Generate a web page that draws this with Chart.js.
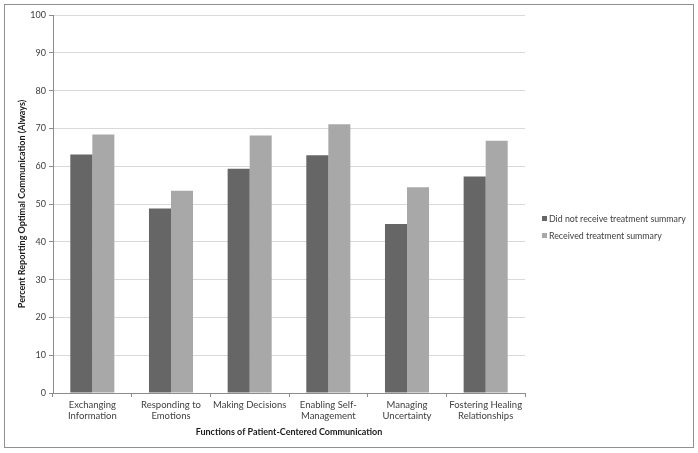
<!DOCTYPE html>
<html>
<head>
<meta charset="utf-8">
<script src="https://cdn.jsdelivr.net/npm/chart.js@4.4.1/dist/chart.umd.min.js"></script>
<style>
  html, body { margin: 0; padding: 0; background: #fff; }
  #wrap { position: relative; width: 698px; height: 453px; }
  #frame { position: absolute; left: 4px; top: 4px; width: 688px; height: 442px; border: 1px solid #8f8f8f; pointer-events: none; }
  canvas { position: absolute; left: 0; top: 0; }
</style>
</head>
<body>
<div id="wrap">
  <canvas id="chart" width="698" height="453"></canvas>
  <div id="frame"></div>
</div>
<script>
// categories and series
const categories = [
    ['Exchanging', 'Information'],
    ['Responding to', 'Emotions'],
    'Making Decisions',
    ['Enabling Self-', 'Management'],
    ['Managing', 'Uncertainty'],
    ['Fostering Healing', 'Relationships']
];
const seriesNames = ['Did not receive treatment summary', 'Received treatment summary'];
const noSummary = [63.1, 48.8, 59.3, 62.9, 44.7, 57.3];
const withSummary = [68.4, 53.5, 68.1, 71.1, 54.4, 66.7];
const yTicks = [0, 10, 20, 30, 40, 50, 60, 70, 80, 90, 100];

const FONT = 'Lato, "Liberation Sans", sans-serif';

// legend drawn by hand so the plot width stays put
const sideLegend = {
    id: 'sideLegend',
    afterDraw(chart) {
        const ctx = chart.ctx;
        ctx.save();
        ctx.font = '8.8px ' + FONT;
        ctx.textBaseline = 'middle';
        chart.data.datasets.forEach((ds, i) => {
            const y = 219 + i * 17;
            ctx.fillStyle = ds.backgroundColor;
            ctx.fillRect(542, y - 3, 5, 5);
            ctx.fillStyle = '#404040';
            ctx.fillText(ds.label, 549, y);
        });
        ctx.restore();
    }
};

const chart = new Chart(document.getElementById('chart'), {
    type: 'bar',
    data: {
        labels: categories,
        datasets: [{
            label: seriesNames[0],
            data: noSummary,
            backgroundColor: '#666666'
        }, {
            label: seriesNames[1],
            data: withSummary,
            backgroundColor: '#a8a8a8'
        }]
    },
    options: {
        responsive: false,
        animation: false,
        layout: { padding: { left: 10, top: 15, right: 173, bottom: 10 } },
        datasets: { bar: { categoryPercentage: 0.56, barPercentage: 1 } },
        plugins: {
            legend: { display: false },
            tooltip: { enabled: false }
        },
        scales: {
            x: {
                grid: { display: true, drawOnChartArea: false, tickLength: 4, color: '#8c8c8c' },
                border: { color: '#8c8c8c' },
                ticks: {
                    autoSkip: false, maxRotation: 0, padding: 2,
                    color: '#404040', font: { family: FONT, size: 9.5 }
                },
                title: {
                    display: true, text: 'Functions of Patient-Centered Communication',
                    color: '#1a1a1a', font: { family: FONT, size: 9, weight: 'bold' },
                    padding: { top: 0, bottom: 6 }
                },
                afterFit(scale) { scale.height = 50; }
            },
            y: {
                min: 0, max: 100,
                afterBuildTicks(scale) { scale.ticks = yTicks.map(v => ({ value: v })); },
                grid: { color: '#d9d9d9', tickColor: '#8c8c8c', tickLength: 4 },
                border: { color: '#8c8c8c' },
                ticks: { padding: 3, color: '#404040', font: { family: FONT, size: 9 } },
                title: {
                    display: true, text: 'Percent Reporting Optimal Communication (Always)',
                    color: '#1a1a1a', font: { family: FONT, size: 9, weight: 'bold' },
                    padding: { top: 7, bottom: 0 }
                },
                afterFit(scale) { scale.width = 43; }
            }
        }
    },
    plugins: [sideLegend]
});
</script>
</body>
</html>
